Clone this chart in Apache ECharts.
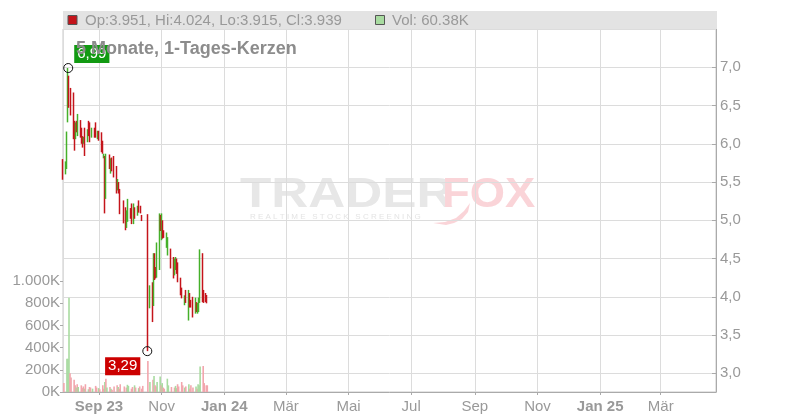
<!DOCTYPE html>
<html><head><meta charset="utf-8">
<script src="https://cdn.jsdelivr.net/npm/echarts@6/dist/echarts.min.js"></script>
<style>html,body{margin:0;padding:0;background:#fff}#c{width:800px;height:420px}</style>
</head><body><div id="c"></div>
<script>
const dates = ['2023-07-28','2023-07-31','2023-08-01','2023-08-02','2023-08-03','2023-08-04','2023-08-07','2023-08-08','2023-08-09','2023-08-10','2023-08-11','2023-08-14','2023-08-15','2023-08-16','2023-08-17','2023-08-18','2023-08-21','2023-08-22','2023-08-23','2023-08-25','2023-08-28','2023-08-29','2023-08-31','2023-09-01','2023-09-04','2023-09-05','2023-09-06','2023-09-07','2023-09-08','2023-09-11','2023-09-12','2023-09-13','2023-09-15','2023-09-18','2023-09-19','2023-09-20','2023-09-21','2023-09-25','2023-09-27','2023-09-28','2023-09-29','2023-10-02','2023-10-03','2023-10-05','2023-10-06','2023-10-09','2023-10-10','2023-10-12','2023-10-13','2023-10-18','2023-10-20','2023-10-23','2023-10-24','2023-10-25','2023-10-26','2023-10-27','2023-10-30','2023-10-31','2023-11-01','2023-11-02','2023-11-03','2023-11-06','2023-11-07','2023-11-10','2023-11-13','2023-11-14','2023-11-15','2023-11-16','2023-11-17','2023-11-20','2023-11-21','2023-11-23','2023-11-24','2023-11-27','2023-11-28','2023-11-29','2023-12-01','2023-12-04','2023-12-05','2023-12-06','2023-12-07','2023-12-08','2023-12-11','2023-12-12','2023-12-14','2023-12-15'];
const open  = [5.77,5.62,5.70,6.30,6.86,6.70,6.62,6.28,6.08,6.28,6.12,6.29,6.20,6.08,6.00,6.19,6.03,6.28,6.26,6.10,6.20,6.26,6.08,6.16,6.14,6.02,5.82,5.82,5.30,5.84,5.63,5.80,5.82,5.68,5.40,5.50,5.40,5.24,5.15,4.92,5.00,5.15,5.20,4.98,5.15,5.08,5.24,5.18,5.06,4.38,3.88,4.17,3.90,4.55,4.38,4.27,4.36,5.05,4.76,4.98,4.86,4.66,4.56,4.62,4.50,4.30,4.38,4.48,4.43,4.24,4.10,3.90,4.07,3.75,4.04,3.95,3.98,3.80,3.92,3.80,3.82,3.94,4.55,4.07,4.03,3.951];
const high  = [5.80,5.77,6.16,6.99,6.89,6.73,6.67,6.30,6.28,6.30,6.39,6.31,6.21,6.10,6.09,6.21,6.19,6.30,6.28,6.21,6.21,6.28,6.17,6.17,6.15,6.04,5.87,5.84,5.87,5.86,5.81,5.82,5.84,5.71,5.54,5.50,5.41,5.26,5.17,5.13,5.28,5.16,5.22,5.22,5.17,5.19,5.26,5.19,5.07,5.08,4.15,4.19,4.57,4.57,4.39,4.71,5.09,5.07,5.09,5.00,4.87,4.84,4.78,4.63,4.52,4.50,4.52,4.50,4.45,4.25,4.12,4.02,4.09,4.09,4.05,3.96,4.00,3.99,3.93,3.92,3.99,4.62,4.57,4.09,4.05,4.024];
const low   = [5.53,5.60,5.67,6.28,6.47,6.37,6.06,5.91,6.06,6.15,6.10,6.08,6.00,5.95,6.00,5.84,6.02,6.10,6.02,6.08,6.08,6.08,6.06,6.04,5.89,5.87,5.81,5.09,5.28,5.67,5.61,5.64,5.56,5.35,5.39,5.35,5.08,4.96,4.87,4.90,4.98,5.02,4.95,4.95,5.02,5.06,5.10,5.09,4.99,3.29,3.85,3.67,3.88,4.22,4.24,4.25,4.35,4.86,4.74,4.76,4.77,4.64,4.54,4.37,4.24,4.28,4.35,4.30,4.19,4.02,3.98,3.89,3.92,3.69,3.86,3.86,3.73,3.78,3.80,3.78,3.80,3.92,3.93,3.92,3.93,3.915];
const close = [5.55,5.74,6.10,6.88,6.50,6.40,6.12,5.95,6.24,6.17,6.35,6.10,6.02,5.97,6.07,5.88,6.17,6.12,6.05,6.19,6.10,6.12,6.15,6.05,5.92,5.88,5.86,5.15,5.80,5.70,5.78,5.66,5.60,5.38,5.52,5.37,5.12,5.00,4.90,5.10,5.24,5.03,4.98,5.20,5.03,5.17,5.12,5.10,5.00,4.30,4.12,3.72,4.52,4.25,4.26,4.68,5.02,4.88,5.05,4.80,4.78,4.82,4.75,4.40,4.28,4.47,4.50,4.33,4.22,4.05,4.00,4.00,3.94,4.05,3.88,3.88,3.76,3.96,3.82,3.90,3.96,4.55,3.98,3.95,3.96,3.939];
const volumeK = [80,300,300,850,170,130,110,60,40,70,45,60,35,50,30,70,25,45,40,30,55,40,35,25,60,30,90,120,40,45,30,20,50,60,45,30,70,50,40,65,55,30,45,60,40,35,50,30,55,280,90,110,145,60,50,90,140,60,80,40,30,120,60,45,40,55,35,70,50,90,60,40,50,70,30,60,40,50,30,70,60,230,235,80,60,60.38];
const monthNames = ['Jan','Feb','Mär','Apr','Mai','Jun','Jul','Aug','Sep','Okt','Nov','Dez'];
const volTickLabels = ['0K','200K','400K','600K','800K','1.000K'];
const title = '5 Monate, 1-Tages-Kerzen';

const UP = '#45b02a', DOWN = '#c4141b', VUP = '#a8dba0', VDOWN = '#f2a6ad';
const FONT = 'Liberation Sans';
const xMin = '2023-07-27 22:00', xMax = '2025-04-23 20:00';
const xMinTs = +new Date(xMin.replace(' ', 'T'));

let iMax = 0, iMin = 0;
for (let i = 0; i < dates.length; i++) { if (high[i] > high[iMax]) iMax = i; if (low[i] < low[iMin]) iMin = i; }
const n = dates.length - 1;
const headerText = 'Op:' + open[n].toFixed(3) + ', Hi:' + high[n].toFixed(3) + ', Lo:' + low[n].toFixed(3) + ', Cl:' + close[n].toFixed(3);
const volText = 'Vol: ' + volumeK[n].toFixed(2) + 'K';

const chart = echarts.init(document.getElementById('c'), null, {renderer: 'canvas'});
chart.setOption({
  animation: false,
  backgroundColor: '#fff',
  title: { text: title, left: 71, top: 35, textStyle: { fontSize: 18, fontWeight: 'bold', color: '#8c8c8c', fontFamily: FONT } },
  grid: [
    { left: 63, right: 84, top: 29, bottom: 28, show: true, borderColor: '#c8c8c8', borderWidth: 1, backgroundColor: 'transparent' },
    { left: 63, right: 84, top: 281, bottom: 28 }
  ],
  xAxis: [
    { type: 'time', gridIndex: 0, min: xMin, max: xMax, splitNumber: 8,
      axisLine: { lineStyle: { color: '#aaa' } },
      axisTick: { show: true, length: 3, lineStyle: { color: '#aaa' } },
      splitLine: { show: true, lineStyle: { color: '#dcdcdc' } },
      axisLabel: { color: '#999', fontSize: 15, fontFamily: FONT, margin: 7, hideOverlap: false,
        formatter: function (v) {
          const d = new Date(v); const m = d.getMonth();
          const isFirst = (v - xMinTs) < 62 * 86400000;
          if (m === 0 || isFirst) return '{b|' + monthNames[m] + ' ' + String(d.getFullYear()).slice(2) + '}';
          return monthNames[m];
        },
        rich: { b: { fontWeight: 'bold', color: '#999', fontSize: 15, fontFamily: FONT } } } },
    { type: 'time', gridIndex: 1, min: xMin, max: xMax, show: false }
  ],
  yAxis: [
    { type: 'value', gridIndex: 0, position: 'right', min: 2.756, max: 7.5, splitNumber: 9, scale: true,
      axisLine: { show: true, lineStyle: { color: '#aaa' } },
      axisTick: { show: true, inside: true, length: 4, lineStyle: { color: '#aaa' } },
      splitLine: { show: true, lineStyle: { color: '#dcdcdc' } },
      axisLabel: { color: '#999', fontSize: 15, fontFamily: FONT, margin: 4, showMinLabel: false, showMaxLabel: false,
        formatter: v => v.toFixed(1).replace('.', ',') } },
    { type: 'value', gridIndex: 1, position: 'left', min: 0, max: 1000000, interval: 200000,
      axisLine: { show: false },
      axisTick: { show: true, length: 3, lineStyle: { color: '#aaa' } },
      splitLine: { show: false },
      axisLabel: { color: '#999', fontSize: 15, fontFamily: FONT, margin: 3,
        formatter: (v) => volTickLabels[Math.round(v / 200000)] } }
  ],
  series: [
    { type: 'bar', xAxisIndex: 1, yAxisIndex: 1, barWidth: 1.6, z: 1,
      data: dates.map((d, i) => ({ value: [d, volumeK[i] * 1000], itemStyle: { color: close[i] >= open[i] ? VUP : VDOWN } })) },
    { type: 'candlestick', xAxisIndex: 0, yAxisIndex: 0, barWidth: 0.8, clip: false, z: 3,
      itemStyle: { color: UP, color0: DOWN, borderColor: UP, borderColor0: DOWN, borderWidth: 1.5 },
      data: dates.map((d, i) => [d, open[i], close[i], low[i], high[i]]),
      markPoint: {
        symbol: 'circle', symbolSize: 9, animation: false,
        itemStyle: { color: 'rgba(0,0,0,0)', borderColor: '#111', borderWidth: 1 },
        label: { show: true, color: '#fff', fontSize: 15, fontFamily: FONT, padding: [2, 3, 1, 3],
          formatter: p => p.value.toFixed(2).replace('.', ',') },
        data: [
          { coord: [dates[iMax], high[iMax]], value: high[iMax], label: { position: 'right', offset: [-4, -14], backgroundColor: '#129a12' } },
          { coord: [dates[iMin], low[iMin]], value: low[iMin], label: { position: 'left', offset: [3, 15], backgroundColor: '#cc0000' } }
        ]
      } }
  ],
  graphic: [
    { type: 'text', z: -10, left: 240, top: 174, scaleX: 1.22, style: { text: 'TRADER', fill: '#e7e7e7', font: 'bold 42px "Liberation Sans"' } },
    { type: 'text', z: -10, left: 442, top: 174, scaleX: 1.08, style: { text: 'FOX', fill: '#fad4d8', font: 'bold 42px "Liberation Sans"' } },
    { type: 'polygon', z: -10, shape: { points: [[433,223],[445,222],[456,218],[464,211],[470,203],[468,212],[462,219],[454,223],[446,225]] }, style: { fill: '#fad4d8' } },
    { type: 'text', z: -10, left: 250, top: 213, style: { text: 'R E A L T I M E   S T O C K   S C R E E N I N G', fill: '#e4e4e4', font: '8px "Liberation Sans"' } },
    { type: 'rect', z: 5, shape: { x: 63, y: 11, width: 654, height: 18 }, style: { fill: '#e3e3e3' } },
    { type: 'rect', z: 6, shape: { x: 68, y: 15.5, width: 9, height: 9 }, style: { fill: DOWN, stroke: '#555', lineWidth: 1 } },
    { type: 'text', z: 6, x: 85, y: 20.5, style: { text: headerText, fill: '#999', font: '15px "Liberation Sans"', verticalAlign: 'middle' } },
    { type: 'rect', z: 6, shape: { x: 375.5, y: 15.5, width: 9, height: 9 }, style: { fill: VUP, stroke: '#555', lineWidth: 1 } },
    { type: 'text', z: 6, x: 392, y: 20.5, style: { text: volText, fill: '#999', font: '15px "Liberation Sans"', verticalAlign: 'middle' } }
  ]
});
</script></body></html>
